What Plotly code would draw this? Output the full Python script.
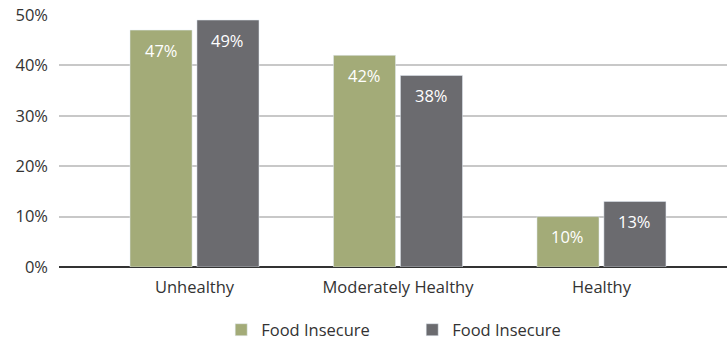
import plotly.graph_objects as go

categories = ["Unhealthy", "Moderately Healthy", "Healthy"]
series_a_name = "Food Insecure"
series_b_name = "Food Insecure"
series_a = [47, 42, 10]
series_b = [49, 38, 13]
y_ticks = [0, 10, 20, 30, 40, 50]
y_tick_labels = ["0%", "10%", "20%", "30%", "40%", "50%"]

GREEN = "#a3ab78"
GRAY = "#6b6b6f"
FONT = "Open Sans"
FS = 16.5
BAR_W = 0.305
GAP = 0.012

xs = list(range(len(categories)))

fig = go.Figure()
fig.add_trace(go.Bar(x=xs, y=series_a, name=series_a_name, marker_color=GREEN,
                     width=BAR_W, offset=-(BAR_W + GAP), hoverinfo="skip"))
fig.add_trace(go.Bar(x=xs, y=series_b, name=series_b_name, marker_color=GRAY,
                     width=BAR_W, offset=GAP, hoverinfo="skip"))

annotations = []
for i, v in enumerate(series_a):
    annotations.append(dict(x=i - GAP - BAR_W / 2, y=v, text=f"{v}%", showarrow=False,
                            yanchor="middle", yshift=-20, xref="x", yref="y",
                            font=dict(family=FONT, size=FS, color="white")))
for i, v in enumerate(series_b):
    annotations.append(dict(x=i + GAP + BAR_W / 2, y=v, text=f"{v}%", showarrow=False,
                            yanchor="middle", yshift=-20, xref="x", yref="y",
                            font=dict(family=FONT, size=FS, color="white")))

fig.update_layout(
    width=727, height=341,
    margin=dict(l=59, r=0, t=15, b=74, autoexpand=False),
    paper_bgcolor="white", plot_bgcolor="white",
    font=dict(family=FONT, size=FS, color="#333333"),
    barmode="overlay",
    annotations=annotations,
    showlegend=True,
    legend=dict(orientation="h", xref="container", yref="container",
                x=0.567, xanchor="center", y=1 - 330 / 341, yanchor="middle",
                font=dict(family=FONT, size=FS, color="#333333"),
                entrywidth=146, entrywidthmode="pixels", traceorder="normal"),
    xaxis=dict(range=[-0.666, 2.617], tickmode="array", tickvals=xs, ticktext=categories,
               showgrid=False, zeroline=False, showline=False, ticks="",
               ticklabelstandoff=8,
               tickfont=dict(family=FONT, size=FS, color="#333333")),
    yaxis=dict(range=[0, 50], tickmode="array", tickvals=y_ticks, ticktext=y_tick_labels,
               showgrid=True, gridcolor="#c8c8c8", gridwidth=1.5,
               zeroline=True, zerolinecolor="#333333", zerolinewidth=1.5,
               showline=False, ticks="", ticklabelstandoff=10,
               tickfont=dict(family=FONT, size=FS, color="#333333")),
)

fig.write_html("out.html")
